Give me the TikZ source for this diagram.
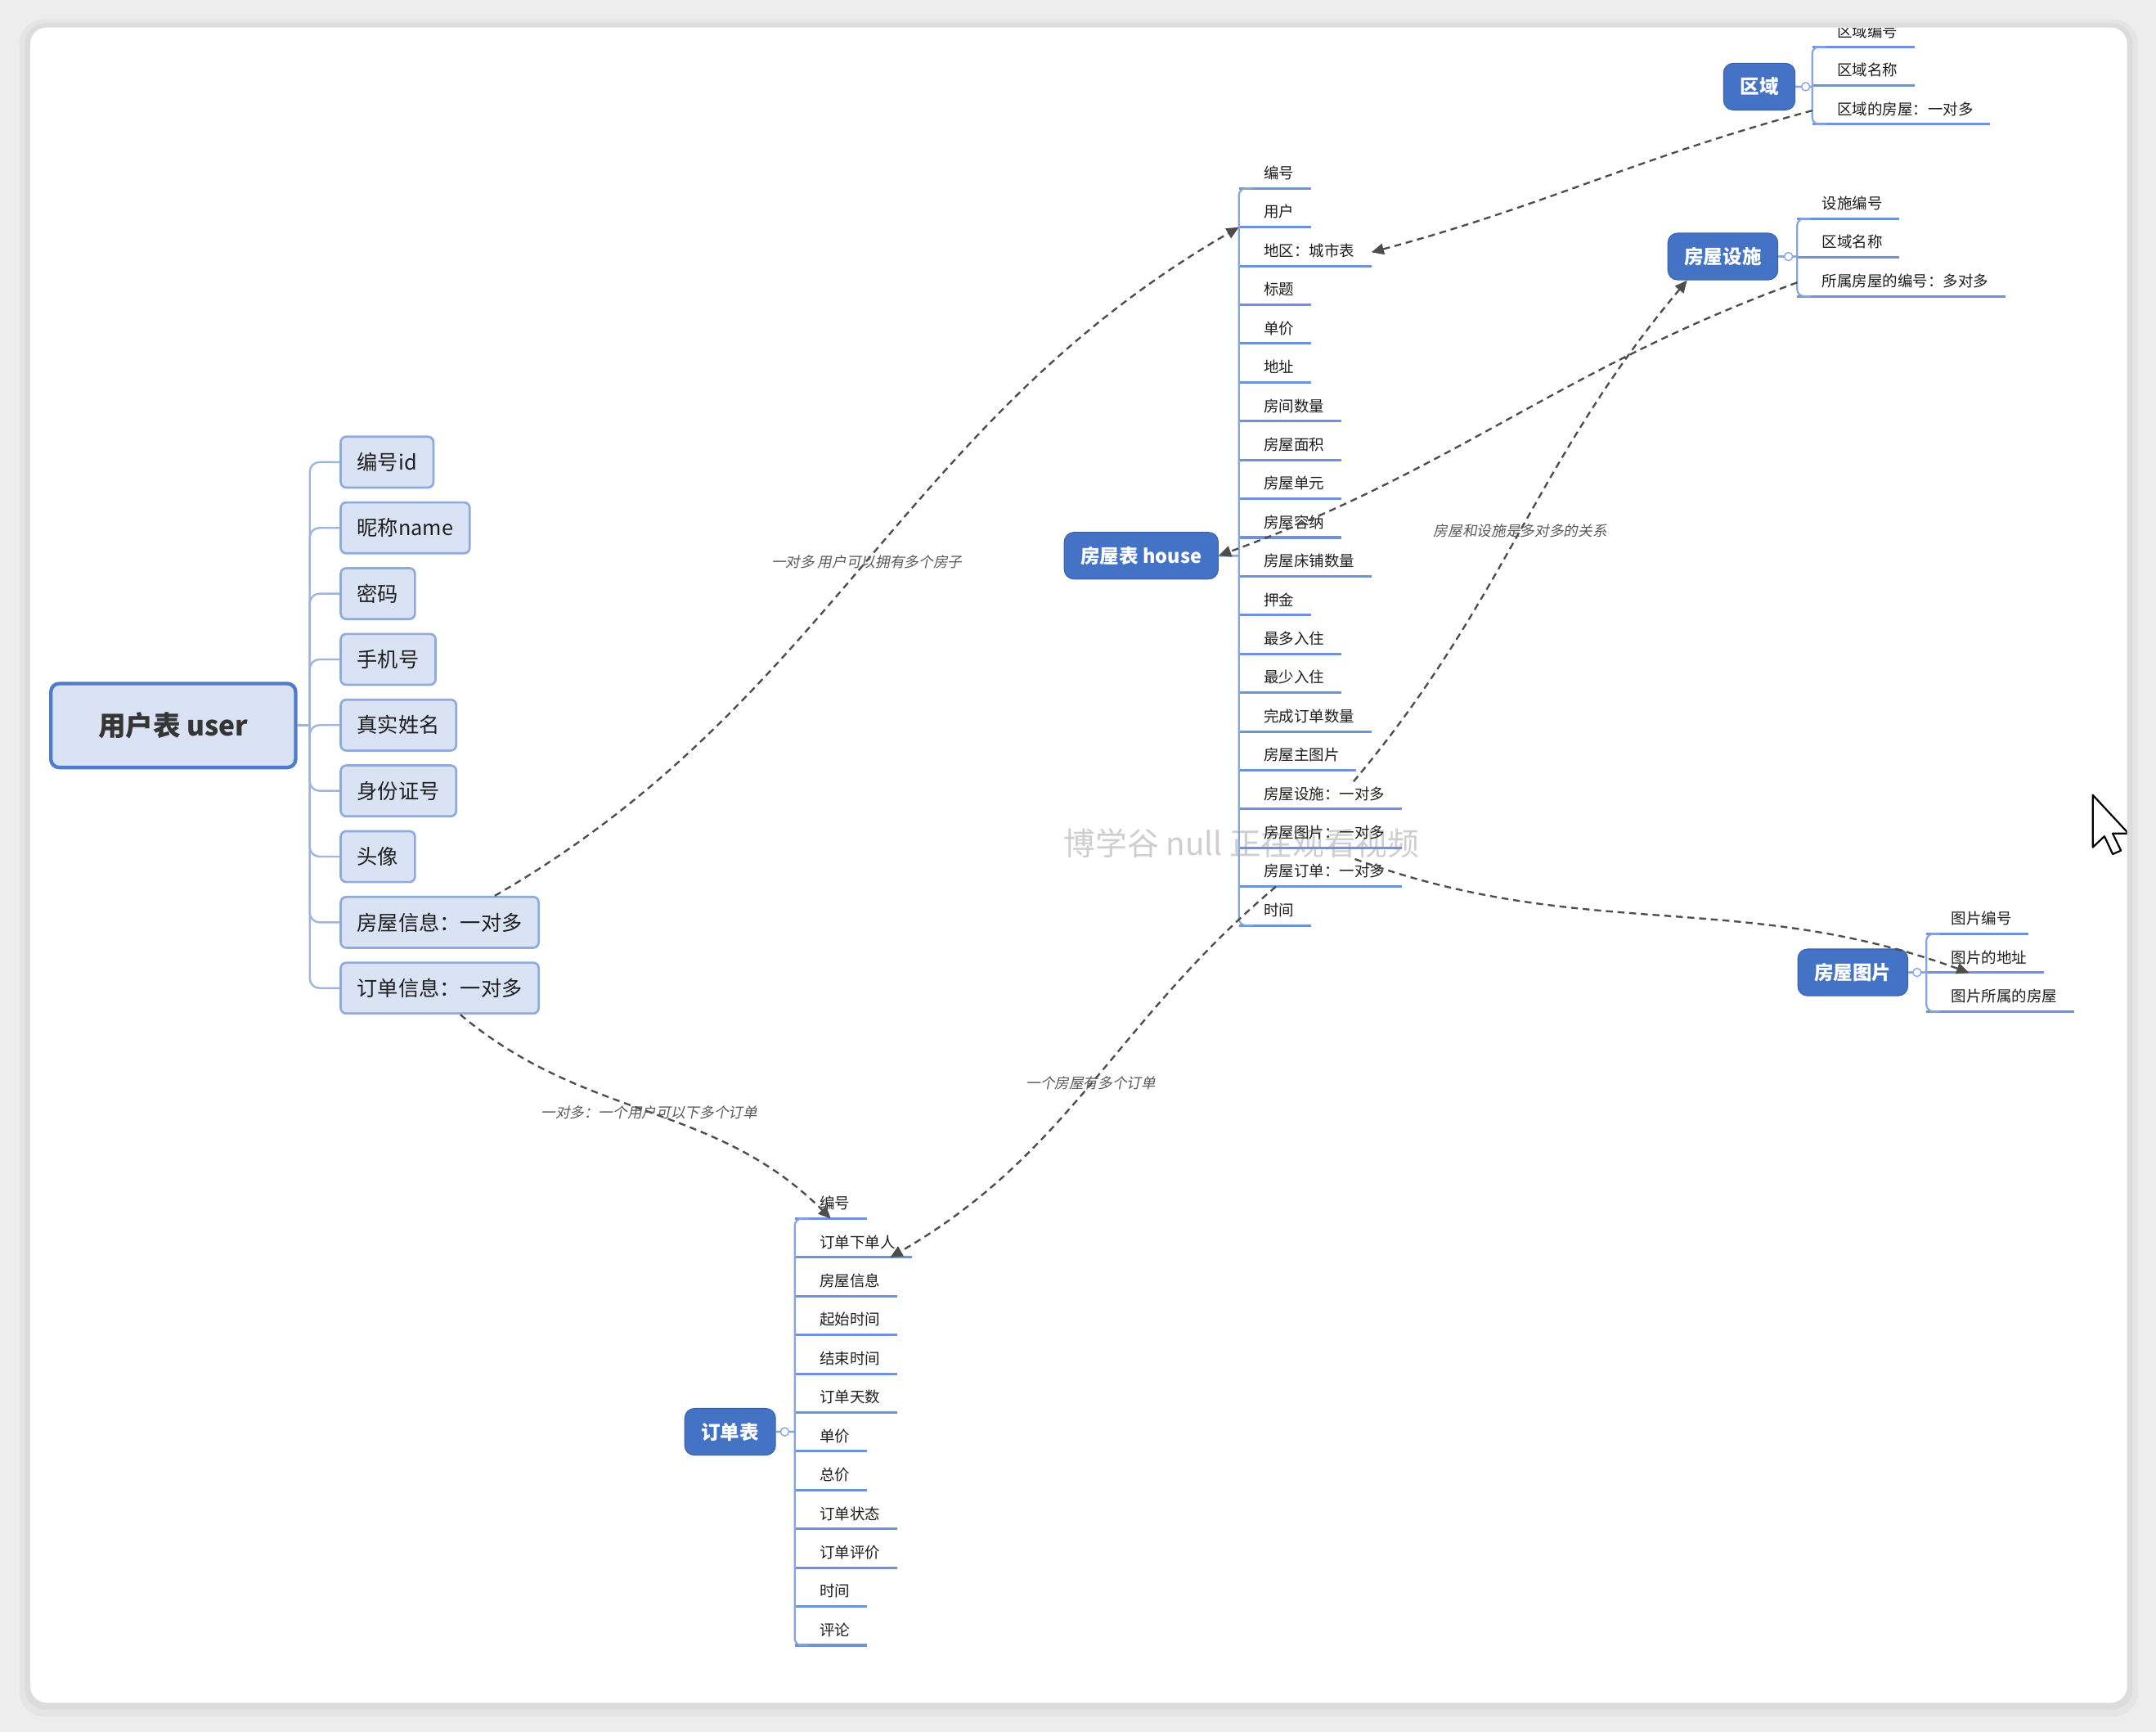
\documentclass[tikz,border=0pt]{standalone}
\usepackage{fontspec}
\setmainfont{Noto Sans CJK SC}
\newfontfamily\slantfont{Noto Sans CJK SC}[FakeSlant=0.2]
\usepackage{xcolor}
\usetikzlibrary{positioning, arrows.meta}

\definecolor{pagegray}{HTML}{EDEDED}
\definecolor{ink}{HTML}{1E1E1E}
\definecolor{topicblue}{HTML}{4472C4}
\definecolor{boxfill}{HTML}{DAE3F3}
\definecolor{boxline}{HTML}{8FAADC}
\definecolor{rootline}{HTML}{4F7BC9}
\definecolor{branch}{HTML}{9DB4DE}
\definecolor{spineblue}{HTML}{86A5DC}
\definecolor{lineblue}{HTML}{6F93D6}
\definecolor{relgray}{HTML}{4D4D4D}
\definecolor{notegray}{HTML}{595959}
\definecolor{markgray}{HTML}{C2C2C2}

\newcommand\fldfont{\fontsize{11}{13}\selectfont}

\begin{document}
\begin{tikzpicture}[x=1pt, y=-1pt, node distance=28.2pt,
    uroot/.style={draw=rootline, fill=boxfill, line width=2.6pt, rounded corners=6pt, minimum width=178pt, minimum height=61pt, font=\fontsize{20}{24}\selectfont\bfseries, text=ink!90},
    ubox/.style={draw=boxline, fill=boxfill, line width=1.6pt, rounded corners=4pt, anchor=west, minimum height=37pt, inner xsep=12pt, font=\fontsize{15}{18}\selectfont, text=ink},
    ubelow/.style={below=9.2pt of #1.south west, anchor=north west},
    topic/.style={fill=topicblue, draw=topicblue!85!black, line width=.6pt, rounded corners=7pt, minimum height=34pt, inner xsep=12pt, font=\fontsize{14}{16}\selectfont\bfseries, text=white},
    field/.style={anchor=south west, inner xsep=12pt, inner ysep=4.8pt, text height=8pt, text depth=2pt, font=\fldfont, text=ink,
        execute at begin node={\hspace*{6pt}},
        append after command={(\tikzlastnode.south west) edge[underline] (\tikzlastnode.south east)}},
    under/.style={below=of #1.south west, anchor=south west},
    underline/.style={draw=lineblue, line width=1.8pt},
    link/.style={draw=spineblue, line width=1.3pt, to path={-- (\tikztostart -| \tikztotarget) [rounded corners=5pt] -- (\tikztotarget) -- ([xshift=10pt]\tikztotarget)}},
    ulink/.style={draw=branch, line width=1.4pt, to path={-- ([xshift=9pt]\tikztostart) [rounded corners=7pt] |- (\tikztotarget)}},
    knob/.style={circle, draw=spineblue, fill=white, line width=.8pt, inner sep=0pt, minimum size=6pt},
    rel/.style={draw=relgray, line width=1.4pt, dash pattern=on 5pt off 3.5pt, -{Triangle[length=9pt, width=8pt]}},
    note/.style={font=\slantfont\fontsize{10.5}{12}\selectfont, text=notegray},
    watermark/.style={font=\fontsize{23}{26}\selectfont, text=markgray, opacity=.8}]

  % screen and panel
  \useasboundingbox (0,0) rectangle (1568,1259);
  \fill[pagegray] (0,0) rectangle (1568,1259);
  \fill[black, opacity=.03, rounded corners=18pt] (14,14) rectangle (1555,1248);
  \fill[black, opacity=.04, rounded corners=15pt] (18,17) rectangle (1551,1243);
  \fill[white, rounded corners=12pt] (22,20) rectangle (1547,1238);

  \begin{scope}
  \clip[rounded corners=12pt] (22,20) rectangle (1547,1238);

  \node[watermark] (wm) at (903,613) {博学谷 null 正在观看视频};

  % user table
  \node[uroot] (ur) at (126,527.5) {用户表 user};
  \node[ubox] (u1) at (247,336) {编号id};
  \node[ubox] (u2) [ubelow=u1] {昵称name};
  \node[ubox] (u3) [ubelow=u2] {密码};
  \node[ubox] (u4) [ubelow=u3] {手机号};
  \node[ubox] (u5) [ubelow=u4] {真实姓名};
  \node[ubox] (u6) [ubelow=u5] {身份证号};
  \node[ubox] (u7) [ubelow=u6] {头像};
  \node[ubox] (uh) [ubelow=u7] {房屋信息：一对多};
  \node[ubox] (ui) [ubelow=uh] {订单信息：一对多};

  \path (ur.east) edge[ulink] (u1.west) edge[ulink] (u2.west) edge[ulink] (u3.west)
                  edge[ulink] (u4.west) edge[ulink] (u5.west) edge[ulink] (u6.west)
                  edge[ulink] (u7.west) edge[ulink] (uh.west) edge[ulink] (ui.west);

  % house table
  \node[topic] (hr) at (830,404) {房屋表 house};
  \node[field] (h1) at (901,137) {编号};
  \node[field] (h2) [under=h1] {用户};
  \node[field] (h3) [under=h2] {地区：城市表};
  \node[field] (h4) [under=h3] {标题};
  \node[field] (h5) [under=h4] {单价};
  \node[field] (h6) [under=h5] {地址};
  \node[field] (h7) [under=h6] {房间数量};
  \node[field] (h8) [under=h7] {房屋面积};
  \node[field] (h9) [under=h8] {房屋单元};
  \node[field] (h10) [under=h9] {房屋容纳};
  \node[field] (h11) [under=h10] {房屋床铺数量};
  \node[field] (h12) [under=h11] {押金};
  \node[field] (h13) [under=h12] {最多入住};
  \node[field] (h14) [under=h13] {最少入住};
  \node[field] (h15) [under=h14] {完成订单数量};
  \node[field] (h16) [under=h15] {房屋主图片};
  \node[field] (h17) [under=h16] {房屋设施：一对多};
  \node[field] (h18) [under=h17] {房屋图片：一对多};
  \node[field] (h19) [under=h18] {房屋订单：一对多};
  \node[field] (h20) [under=h19] {时间};

  % area table
  \node[topic] (ar) at (1279.5,63) {区域};
  \node[field] (a1) at (1318,34) {区域编号};
  \node[field] (a2) [under=a1] {区域名称};
  \node[field] (a3) [under=a2] {区域的房屋：一对多};

  % facility table
  \node[topic] (fr) at (1253,186.5) {房屋设施};
  \node[field] (f1) at (1307,159) {设施编号};
  \node[field] (f2) [under=f1] {区域名称};
  \node[field] (f3) [under=f2] {所属房屋的编号：多对多};

  % image table
  \node[topic] (pr) at (1347.5,707) {房屋图片};
  \node[field] (p1) at (1401,679) {图片编号};
  \node[field] (p2) [under=p1] {图片的地址};
  \node[field] (p3) [under=p2] {图片所属的房屋};

  % order table
  \node[topic] (od) at (531,1041) {订单表};
  \node[field] (o1) at (578,886) {编号};
  \node[field] (o2) [under=o1] {订单下单人};
  \node[field] (o3) [under=o2] {房屋信息};
  \node[field] (o4) [under=o3] {起始时间};
  \node[field] (o5) [under=o4] {结束时间};
  \node[field] (o6) [under=o5] {订单天数};
  \node[field] (o7) [under=o6] {单价};
  \node[field] (o8) [under=o7] {总价};
  \node[field] (o9) [under=o8] {订单状态};
  \node[field] (o10) [under=o9] {订单评价};
  \node[field] (o11) [under=o10] {时间};
  \node[field] (o12) [under=o11] {评论};

  \path (hr.east) edge[link] (h1.south west) edge[link] (h20.south west)
        (ar.east) edge[link] (a1.south west) edge[link] (a3.south west)
        (fr.east) edge[link] (f1.south west) edge[link] (f3.south west)
        (pr.east) edge[link] (p1.south west) edge[link] (p3.south west)
        (od.east) edge[link] (o1.south west) edge[link] (o12.south west);

  \node[knob] (ak) [right=4pt of ar.east] {};
  \node[knob] (fk) [right=4pt of fr.east] {};
  \node[knob] (pk) [right=3pt of pr.east] {};
  \node[knob] (ok) [right=3pt of od.east] {};

  % relations
  \path ([xshift=40pt]uh.north) edge[rel, out=30, in=210] node[note] {一对多 用户可以拥有多个房子} (h2.south west)
        (a3.west) edge[rel, out=195, in=15] (h3.east)
        (f3.west) edge[rel, out=200, in=20] (hr.east)
        ([xshift=-35pt]h17.north east) edge[rel, out=50, in=230] node[note] {房屋和设施是多对多的关系} ([xshift=-26pt]fr.south)
        ([xshift=-34pt]h19.north east) edge[rel, out=-20, in=160] ([xshift=31pt]p2.south west)
        ([xshift=15pt]ui.south) edge[rel, out=-40, in=135] node[note] {一对多：一个用户可以下多个订单} (o1.south)
        ([xshift=27pt]h19.south west) edge[rel, out=220, in=30] node[note] {一个房屋有多个订单} ([xshift=-16pt]o2.south east);

  % mouse pointer
  \draw[fill=white, line width=1.3pt, line join=round] (1522,578) -- ++(0,38) -- ++(8.5,-8) -- ++(6,13) -- ++(6,-2.6) -- ++(-6,-12.4) -- ++(11.5,0) -- cycle;
  \end{scope}
\end{tikzpicture}
\end{document}
